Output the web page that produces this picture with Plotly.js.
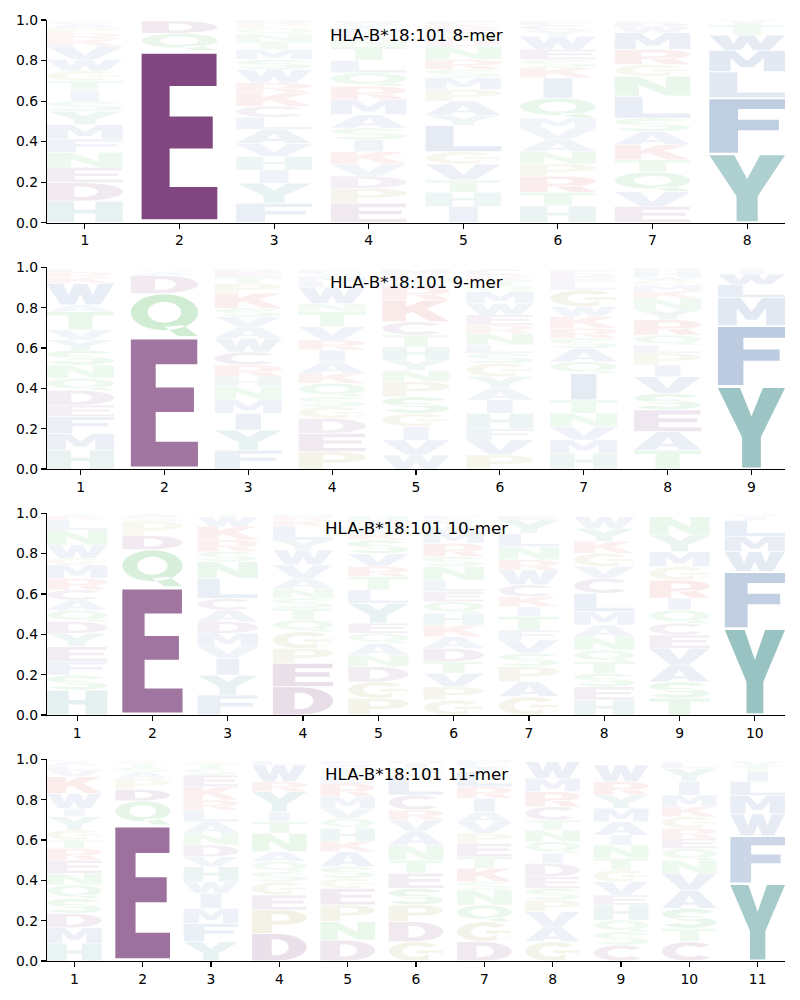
<!DOCTYPE html>
<html><head><meta charset="utf-8">
<script src="https://cdn.plot.ly/plotly-3.0.1.min.js"></script>
<style>body{margin:0;background:#fff}#chart{width:800px;height:1000px}</style>
</head><body><div id="chart"></div>
<script>
// ---------------- DATA ----------------
const titles = ["HLA-B*18:101 8-mer", "HLA-B*18:101 9-mer", "HLA-B*18:101 10-mer", "HLA-B*18:101 11-mer"];
const yTickVals = [0, 0.2, 0.4, 0.6, 0.8, 1.0];
// each position: stack bottom -> top of [letter, height, (optional) emphasis alpha]
const mer8 = [
 [["H",.107],["D",.091],["E",.074],["N",.075],["F",.066],["M",.07],["Y",.067],["S",.05],["I",.05],["T",.05],["G",.05],["W",.055],["V",.065],["K",.035],["R",.03],["P",.025],["A",.02],["C",.015]],
 [["E",.85,.94],["Q",.085,.1],["D",.06,.1]],
 [["F",.096],["Y",.099],["I",.065],["H",.067],["V",.063],["A",.07],["L",.06],["C",.055],["K",.065],["R",.05],["W",.066],["S",.049],["M",.05],["T",.04],["N",.035],["Q",.03],["P",.025],["D",.015]],
 [["E",.096],["P",.074],["D",.06],["V",.06],["K",.06],["I",.06],["S",.057],["A",.066],["M",.074],["R",.066],["Q",.067],["L",.06],["T",.07],["N",.035],["C",.03],["F",.025],["Y",.02],["W",.015]],
 [["I",.08],["H",.07],["T",.06],["V",.08],["G",.06],["L",.13],["Y",.05],["A",.07],["P",.057],["M",.058],["S",.041],["R",.049],["N",.065],["D",.035],["Q",.03],["E",.025],["K",.02],["F",.015]],
 [["H",.083],["T",.067],["R",.08],["P",.06],["N",.06],["A",.06],["V",.057],["M",.049],["Q",.099],["I",.1],["K",.049],["S",.041],["E",.05],["W",.065],["Y",.03],["C",.025],["F",.02]],
 [["E",.08],["V",.073],["Q",.097],["T",.06],["K",.075],["A",.065],["S",.066],["L",.108],["N",.099],["G",.057],["R",.075],["M",.082],["W",.03],["D",.02],["C",.01]],
 [["Y",.34,.41],["F",.275,.34],["L",.13,.15],["M",.105,.15],["W",.075,.13],["T",.05],["I",.015],["V",.01]]
];
const mer9 = [
 [["H",.094],["M",.083],["F",.083],["E",.057],["D",.073],["Q",.06],["N",.066],["S",.074],["Y",.05],["V",.05],["T",.09],["A",.033],["W",.107],["K",.03],["R",.025],["L",.015]],
 [["E",.655,.70],["Q",.215,.24],["D",.09,.1],["A",.015],["S",.01]],
 [["F",.094],["Y",.099],["I",.083],["M",.066],["N",.066],["H",.05],["R",.058],["C",.064],["W",.068],["A",.057],["V",.05],["S",.042],["K",.074],["P",.049],["T",.03],["E",.025],["D",.015]],
 [["P",.086],["E",.091],["D",.074],["G",.058],["S",.049],["Q",.067],["K",.049],["A",.058],["I",.058],["R",.05],["V",.066],["T",.074],["N",.04],["W",.08],["L",.03],["M",.025],["Y",.015],["F",.02]],
 [["W",.07],["V",.074],["I",.066],["G",.066],["S",.082],["P",.075],["N",.057],["Y",.05],["H",.067],["T",.057],["C",.066],["K",.108],["R",.066],["A",.03],["E",.02],["D",.01],["M",.025]],
 [["P",.07],["V",.074],["F",.056],["H",.076],["I",.066],["A",.058],["Y",.058],["G",.066],["S",.05],["L",.041],["N",.058],["R",.041],["E",.05],["W",.056],["M",.06],["Q",.03],["T",.025],["K",.015],["D",.01],["C",.03]],
 [["H",.078],["M",.066],["V",.066],["N",.066],["T",.066],["I",.132],["Q",.058],["A",.066],["S",.05],["R",.05],["K",.057],["W",.05],["G",.083],["L",.04],["E",.025],["D",.015],["F",.02]],
 [["T",.094],["A",.091],["E",.108],["S",.082],["V",.083],["I",.058],["P",.058],["L",.041],["Q",.049],["R",.076],["Y",.05],["N",.056],["K",.035],["M",.03],["G",.025],["W",.015],["H",.03],["D",.015]],
 [["Y",.41,.5],["F",.30,.36],["M",.14,.16],["L",.065,.12],["W",.05,.1],["I",.02],["T",.01]]
];
const mer10 = [
 [["H",.124],["S",.074],["F",.066],["E",.075],["Y",.066],["D",.058],["Q",.057],["A",.05],["C",.05],["R",.058],["M",.066],["G",.033],["W",.066],["N",.074],["L",.05],["K",.02],["T",.01]],
 [["E",.635,.70],["Q",.185,.2],["D",.07,.1],["P",.07,.08],["S",.02],["A",.015]],
 [["F",.1],["Y",.098],["I",.083],["V",.058],["M",.066],["D",.058],["A",.057],["C",.058],["L",.1],["N",.082],["S",.05],["R",.058],["K",.066],["W",.049],["T",.01]],
 [["D",.14,.17],["E",.116,.16],["P",.074],["G",.083],["Q",.058],["T",.058],["S",.05],["N",.049],["A",.05],["V",.066],["W",.074],["Y",.05],["L",.066],["K",.03],["R",.02],["M",.01]],
 [["P",.083],["G",.082],["D",.075],["N",.058],["A",.057],["Q",.05],["E",.05],["Y",.099],["L",.066],["T",.066],["R",.05],["V",.064],["S",.068],["K",.03],["W",.02],["M",.015],["I",.03],["H",.025]],
 [["G",.074],["P",.066],["V",.067],["T",.057],["D",.066],["A",.058],["K",.058],["H",.058],["Q",.058],["E",.05],["L",.057],["N",.067],["S",.049],["R",.066],["M",.058],["W",.03],["Y",.02],["C",.01],["F",.02]],
 [["G",.091],["A",.074],["P",.075],["S",.066],["V",.066],["F",.049],["T",.067],["I",.049],["K",.05],["C",.058],["W",.074],["R",.05],["N",.066],["L",.065],["Y",.067],["E",.02]],
 [["H",.074],["E",.066],["S",.067],["T",.057],["Q",.058],["N",.066],["A",.058],["M",.066],["L",.091],["C",.075],["V",.058],["G",.066],["K",.058],["Y",.066],["W",.057]],
 [["T",.083],["S",.082],["A",.083],["V",.083],["E",.066],["C",.058],["Q",.066],["I",.058],["R",.09],["G",.067],["M",.074],["Y",.083],["N",.09]],
 [["Y",.43,.52],["F",.28,.33],["W",.10,.14],["M",.075,.12],["L",.08,.12],["I",.02],["V",.01]]
];
const mer11 = [
 [["H",.088],["M",.077],["D",.071],["S",.074],["Q",.067],["N",.058],["E",.065],["R",.058],["T",.042],["G",.05],["Y",.066],["I",.041],["W",.074],["K",.083],["V",.03],["L",.025],["A",.02],["C",.01]],
 [["E",.675,.73],["Q",.12,.13],["D",.055,.1],["P",.055,.08],["A",.03],["S",.025],["T",.02],["G",.015]],
 [["Y",.096],["F",.091],["M",.074],["I",.075],["W",.057],["H",.075],["V",.049],["D",.058],["N",.058],["A",.058],["L",.058],["R",.049],["K",.066],["E",.058],["S",.03],["T",.025],["G",.015]],
 [["D",.137,.16],["P",.116],["E",.074],["G",.066],["S",.05],["Q",.05],["A",.049],["N",.091],["T",.058],["I",.049],["Y",.1],["R",.049],["W",.083],["L",.02]],
 [["D",.104],["N",.091],["P",.083],["E",.082],["G",.05],["S",.058],["A",.074],["K",.05],["H",.066],["Q",.049],["V",.05],["M",.058],["R",.066],["L",.035],["T",.025],["Y",.02],["W",.015],["F",.015]],
 [["G",.096],["D",.099],["P",.083],["S",.082],["E",.075],["T",.065],["N",.075],["A",.066],["V",.058],["R",.05],["C",.074],["L",.083],["K",.03],["Q",.025],["I",.02],["M",.01]],
 [["D",.096],["G",.099],["Q",.083],["N",.074],["S",.041],["K",.067],["T",.057],["E",.066],["P",.05],["V",.057],["A",.05],["I",.067],["R",.057],["L",.075],["Y",.03],["F",.02],["M",.01]],
 [["G",.096],["A",.074],["V",.075],["P",.057],["S",.058],["E",.058],["D",.066],["I",.05],["Q",.058],["N",.058],["T",.049],["C",.066],["R",.075],["M",.066],["W",.082]],
 [["C",.079],["S",.066],["Q",.058],["H",.075],["E",.049],["V",.066],["G",.058],["T",.058],["N",.066],["I",.05],["A",.066],["M",.066],["Y",.066],["R",.066],["W",.083]],
 [["C",.096],["T",.066],["S",.099],["A",.091],["V",.083],["N",.065],["Q",.058],["E",.05],["R",.05],["G",.058],["K",.049],["M",.058],["I",.066],["Y",.066],["L",.03]],
 [["Y",.385,.45],["F",.235,.28],["W",.11,.13],["M",.09,.12],["L",.07,.1],["I",.05,.08],["T",.03],["V",.02]]
];
const panelsData = [mer8, mer9, mer10, mer11];

// ---------------- STYLE ----------------
const GROUP_RGB = {acidic:[120,60,120], polar:[60,180,75], special:[160,150,60], aromatic:[60,140,140], hydrophobic:[70,110,170], basic:[215,70,70]};
const AA_GROUP = {D:'acidic',E:'acidic',C:'acidic',N:'polar',Q:'polar',S:'polar',T:'polar',G:'special',P:'special',H:'aromatic',Y:'aromatic',F:'hydrophobic',W:'hydrophobic',M:'hydrophobic',L:'hydrophobic',I:'hydrophobic',V:'hydrophobic',A:'hydrophobic',K:'basic',R:'basic'};
// background letters: faint, slightly stronger for taller letters
function bgAlpha(h){ return Math.min(0.16, 0.035 + 0.8*h); }
const LETTER_WIDTH = 0.8, VPAD = 0.02;
const DOMAINS = [[0.7846,1.0],[0.5228,0.7372],[0.2614,0.4758],[0.0,0.2143]];
const FONT = "DejaVu Sans, Arial, sans-serif";

// ---------------- GLYPHS (unit box, y up) ----------------
function arc(cx,cy,rx,ry,a0,a1,n){n=n||28;const p=[];for(let i=0;i<=n;i++){const a=(a0+(a1-a0)*i/n)*Math.PI/180;p.push([cx+rx*Math.cos(a),cy+ry*Math.sin(a)]);}return p;}
function ring(cx,cy,rxo,ryo,rxi,ryi,a0,a1){return arc(cx,cy,rxo,ryo,a0,a1,36).concat(arc(cx,cy,rxi,ryi,a1,a0,36));}
const P_OUT = [[0,0],[.36,0],[.36,.36],[.55,.36]].concat(arc(.55,.68,.45,.32,-90,90)).concat([[.55,1],[0,1]]);
const P_HOLE = [[.36,.54],[.36,.83],[.55,.83]].concat(arc(.55,.685,.14,.145,90,-90)).concat([[.55,.54]]);
const GLYPHS = {
 A:{o:[[[0,0],[.33,0],[.3725,.18],[.6275,.18],[.67,0],[1,0],[.66,1],[.34,1]]],h:[[[.408,.33],[.5,.72],[.592,.33]]]},
 C:{o:[ring(.5,.5,.5,.5,.25,.29,42,318)],h:[]},
 D:{o:[[[0,0],[.45,0]].concat(arc(.45,.5,.55,.5,-90,90)).concat([[.45,1],[0,1]])],h:[[[.36,.2],[.36,.8],[.45,.8]].concat(arc(.45,.5,.22,.3,90,-90)).concat([[.45,.2]])]},
 E:{o:[[[0,0],[1,0],[1,.195],[.37,.195],[.37,.428],[.94,.428],[.94,.621],[.37,.621],[.37,.805],[.99,.805],[.99,1],[0,1]]],h:[]},
 F:{o:[[[0,0],[.38,0],[.38,.42],[.92,.42],[.92,.615],[.38,.615],[.38,.815],[1,.815],[1,1],[0,1]]],h:[]},
 G:{o:[ring(.5,.5,.5,.5,.25,.29,40,350),[[.52,.40],[.73,.40],[.73,.08],[.9,.15],[.98,.3],[.98,.55],[.52,.55]]],h:[]},
 H:{o:[[[0,0],[.36,0],[.36,.42],[.64,.42],[.64,0],[1,0],[1,1],[.64,1],[.64,.6],[.36,.6],[.36,1],[0,1]]],h:[]},
 I:{o:[[[.31,0],[.69,0],[.69,1],[.31,1]]],h:[]},
 K:{o:[[[0,0],[.35,0],[.35,.35],[.45,.45],[.7,0],[1,0],[.65,.6],[.98,1],[.6,1],[.35,.68],[.35,1],[0,1]]],h:[]},
 L:{o:[[[0,0],[1,0],[1,.2],[.37,.2],[.37,1],[0,1]]],h:[]},
 M:{o:[[[0,0],[.28,0],[.28,.65],[.42,.2],[.58,.2],[.72,.65],[.72,0],[1,0],[1,1],[.66,1],[.5,.5],[.34,1],[0,1]]],h:[]},
 N:{o:[[[0,0],[.32,0],[.32,.58],[.68,0],[1,0],[1,1],[.68,1],[.68,.42],[.32,1],[0,1]]],h:[]},
 P:{o:[P_OUT],h:[P_HOLE]},
 Q:{o:[arc(.5,.57,.5,.43,0,360,48),[[.5,.22],[.7,0],[1,0],[.78,.26]]],h:[arc(.5,.57,.25,.25,360,0,48)]},
 R:{o:[P_OUT,[[.42,.42],[.68,0],[1,0],[.76,.45]]],h:[P_HOLE]},
 S:{o:[ring(.5,.72,.5,.28,.2,.1,20,310),ring(.5,.28,.5,.28,.2,.1,-160,130)],h:[]},
 T:{o:[[[0,1],[0,.8],[.32,.8],[.32,0],[.68,0],[.68,.8],[1,.8],[1,1]]],h:[]},
 V:{o:[[[0,1],[.34,0],[.66,0],[1,1],[.67,1],[.5,.3],[.33,1]]],h:[]},
 W:{o:[[[0,1],[.2,0],[.42,0],[.5,.5],[.58,0],[.8,0],[1,1],[.76,1],[.68,.45],[.6,1],[.4,1],[.32,.45],[.24,1]]],h:[]},
 Y:{o:[[[0,1],[.36,.38],[.36,0],[.64,0],[.64,.38],[1,1],[.67,1],[.5,.64],[.33,1]]],h:[]}
};
function signedArea(c){let s=0;for(let i=0;i<c.length;i++){const a=c[i],b=c[(i+1)%c.length];s+=a[0]*b[1]-b[0]*a[1];}return s/2;}
function oriented(c,ccw){const s=signedArea(c);return ((s>0)===ccw)?c:c.slice().reverse();}

function letterPath(letter, xc, y0, h){
  const g = GLYPHS[letter];
  const yb = y0 + h*VPAD, ht = h*(1-2*VPAD), xl = xc - LETTER_WIDTH/2;
  const conv = c => 'M' + c.map(p => (xl+p[0]*LETTER_WIDTH).toFixed(4)+','+(yb+p[1]*ht).toFixed(5)).join('L') + 'Z';
  return g.o.map(c=>conv(oriented(c,true))).join('') + g.h.map(c=>conv(oriented(c,false))).join('');
}

// ---------------- BUILD ----------------
const traces = [], shapes = [], annotations = [];
const layout = {
  width: 800, height: 1000, showlegend: false,
  paper_bgcolor: '#fff', plot_bgcolor: '#fff',
  margin: {l: 47, r: 15, t: 20, b: 39},
  font: {family: FONT, size: 13.9, color: '#000'}
};
panelsData.forEach((cols, k) => {
  const sfx = k === 0 ? '' : String(k+1);
  const n = cols.length;
  const positions = cols.map((_, i) => i+1);
  traces.push({x: positions, y: positions.map(() => 0), xaxis: 'x'+sfx, yaxis: 'y'+sfx, type: 'scatter', mode: 'markers', marker: {opacity: 0}, hoverinfo: 'skip'});
  layout['xaxis'+sfx] = {domain: [0,1], anchor: 'y'+sfx, range: [0.6, n+0.4], tickvals: positions, ticktext: positions.map(String),
    showline: true, linecolor: '#000', linewidth: 1.1, ticks: 'outside', ticklen: 5, tickwidth: 1.1, tickcolor: '#000',
    showgrid: false, zeroline: false, fixedrange: true, tickfont: {family: FONT, size: 13.9, color: '#000'}};
  layout['yaxis'+sfx] = {domain: DOMAINS[k], anchor: 'x'+sfx, range: [0, 1], tickvals: yTickVals, ticktext: yTickVals.map(v => v.toFixed(1)),
    showline: true, linecolor: '#000', linewidth: 1.1, ticks: 'outside', ticklen: 5, tickwidth: 1.1, tickcolor: '#000',
    showgrid: false, zeroline: false, fixedrange: true, tickfont: {family: FONT, size: 13.9, color: '#000'}};
  cols.forEach((stack, i) => {
    let y0 = 0;
    stack.forEach(([letter, h, a]) => {
      const rgb = GROUP_RGB[AA_GROUP[letter]];
      const alpha = (a === undefined) ? bgAlpha(h) : a;
      shapes.push({type: 'path', xref: 'x'+sfx, yref: 'y'+sfx, path: letterPath(letter, positions[i], y0, h),
        fillcolor: `rgba(${rgb[0]},${rgb[1]},${rgb[2]},${alpha.toFixed(3)})`, line: {width: 0}, layer: 'above'});
      y0 += h;
    });
  });
  annotations.push({text: titles[k], xref: 'x'+sfx+' domain', yref: 'y'+sfx+' domain', x: 0.5, y: 0.925,
    xanchor: 'center', yanchor: 'middle', showarrow: false, font: {family: FONT, size: 16.7, color: '#000'}});
});
layout.shapes = shapes;
layout.annotations = annotations;
Plotly.newPlot('chart', traces, layout, {displayModeBar: false, staticPlot: true});
</script>
</body></html>
